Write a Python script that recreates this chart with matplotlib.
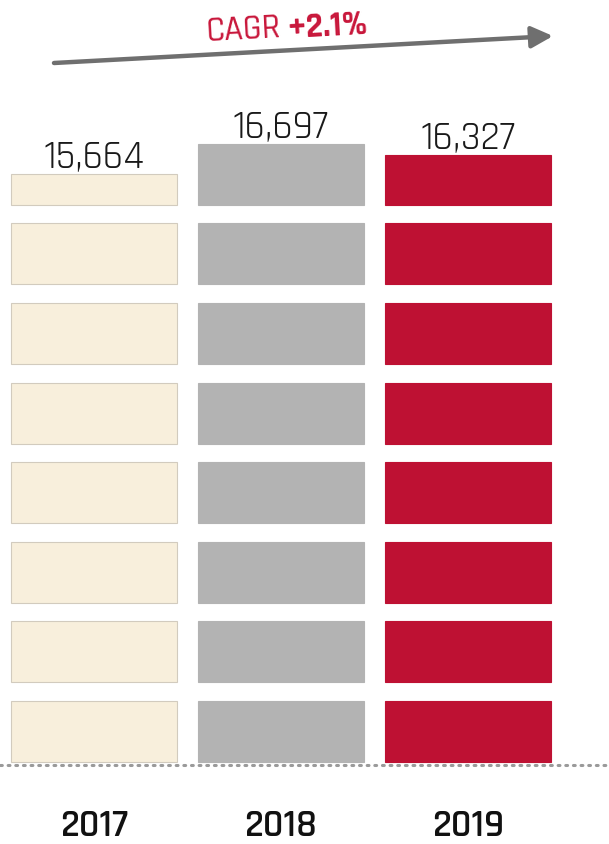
import numpy as np
import matplotlib.pyplot as plt

# chart values
years = ['2017', '2018', '2019']
values = [15664, 16697, 16327]
value_labels = ['15,664', '16,697', '16,327']
colors = ['#F8EFDC', '#B3B3B3', '#BE1133']
edges = ['#D2CBBE', '#B3B3B3', '#BE1133']
cagr_label = 'CAGR'
cagr_value = '+2.1%'

SEG = 2088        # value represented by one block
SEG_H = 0.766     # block height inside one slot (rest is the gap)

W, H = 609, 844
fig = plt.figure(figsize=(W / 100, H / 100), dpi=100)
ax = fig.add_axes([0, 0, 1, 1])

# pixel layout -> data limits (slot pitch 79.6 px, baseline at 762 px)
pitch = 79.6
base_px = 762
ax.set_ylim(-(H - base_px) / pitch, base_px / pitch)
col_px = 187.0
x0_px = 94.0
ax.set_xlim(-x0_px / col_px, (W - x0_px) / col_px)
ax.axis('off')

font = ['Rajdhani', 'DejaVu Sans']

for i, v in enumerate(values):
    full = int(v // SEG)
    frac = v / SEG - full
    for k in range(full):
        ax.bar(i, SEG_H, bottom=k, width=0.888, color=colors[i],
               edgecolor=edges[i], linewidth=0.8)
    top = full
    if frac > 0:
        ax.bar(i, frac * SEG_H, bottom=full, width=0.888, color=colors[i],
               edgecolor=edges[i], linewidth=0.8)
        top = full + frac * SEG_H
    ax.annotate(value_labels[i], (i, top), xytext=(0, 0), textcoords='offset points',
                ha='center', va='bottom', fontsize=29, color='#1a1a1a',
                family=font)
    ax.text(i, -(825 - base_px) / pitch, years[i], ha='center', va='center',
            fontsize=28, fontweight='semibold', color='#111111', family=font)

# dotted baseline
ax.axhline(-3 / pitch, color='#9a9a9a', linewidth=2.2,
           linestyle=(0, (0.6, 1.9)), dash_capstyle='round')


def fxy(x, y):
    return x / W, 1 - y / H


# CAGR arrow
ax.annotate('', xy=fxy(553, 36), xytext=fxy(54, 63), xycoords='figure fraction',
            textcoords='figure fraction',
            arrowprops=dict(arrowstyle='-|>,head_length=1.3,head_width=0.65',
                            color='#6f6f6f', lw=3.2, shrinkA=0, shrinkB=0))

ang = np.degrees(np.arctan2(27, 499))
fig.text(*fxy(243, 29), cagr_label, ha='center', va='center', rotation=ang,
         fontsize=25, fontweight='medium', color='#C8163A', family=font)
fig.text(*fxy(328, 26), cagr_value, ha='center', va='center', rotation=ang,
         fontsize=25, fontweight='bold', color='#C8163A', family=font)

fig.savefig('out.png', dpi=100)
